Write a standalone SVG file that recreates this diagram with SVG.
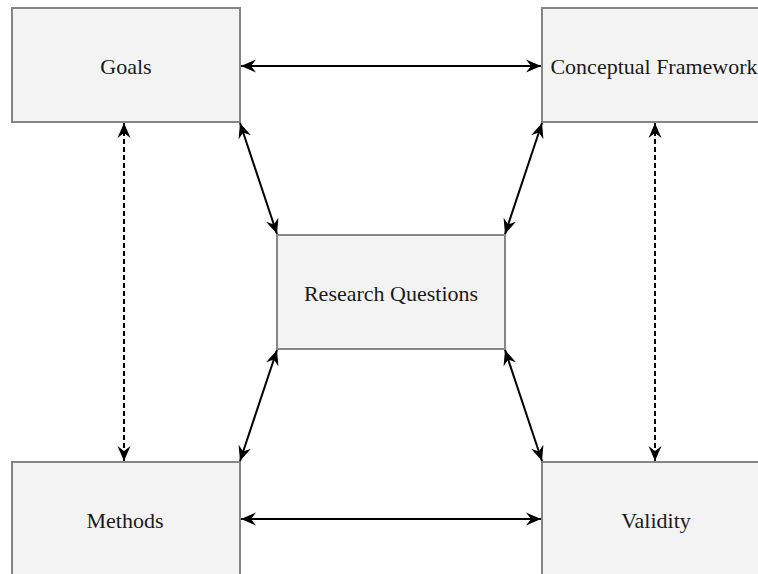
<svg xmlns="http://www.w3.org/2000/svg" width="758" height="574" viewBox="0 0 758 574">
<style>
.box{fill:#f3f3f3;stroke:#858585;stroke-width:2}
.lbl{font-family:"Liberation Serif","Times New Roman",serif;font-size:22px;fill:#1a1a1a;text-anchor:middle;dominant-baseline:central}
.c{stroke:#000;stroke-width:2;fill:none;marker-start:url(#ah);marker-end:url(#ah)}
.d{stroke-dasharray:5 3}
</style>
<defs>
<marker id="ah" markerUnits="userSpaceOnUse" viewBox="-15 -7 16 14" refX="0" refY="0" markerWidth="16" markerHeight="14" orient="auto-start-reverse">
<path d="M0,0 L-15,-6.5 L-10,0 L-15,6.5 Z" fill="#000"/>
</marker>
</defs>
<rect width="758" height="574" fill="#fff"/>
<g id="goals"><rect class="box" x="12" y="8" width="228" height="114"/><text class="lbl" x="126" y="66">Goals</text></g>
<g id="conceptual-framework"><rect class="box" x="542" y="8" width="228" height="114"/><text class="lbl" x="654" y="66">Conceptual Framework</text></g>
<g id="research-questions"><rect class="box" x="277" y="235" width="228" height="114"/><text class="lbl" x="391" y="293">Research Questions</text></g>
<g id="methods"><rect class="box" x="12" y="462" width="228" height="114"/><text class="lbl" x="125" y="520">Methods</text></g>
<g id="validity"><rect class="box" x="542" y="462" width="228" height="114"/><text class="lbl" x="656" y="520">Validity</text></g>
<g id="connectors">
<line class="c" x1="241" y1="66" x2="541" y2="66"/>
<line class="c" x1="241" y1="519" x2="541" y2="519"/>
<line class="c d" x1="124" y1="123" x2="124" y2="461"/>
<line class="c d" x1="655" y1="123" x2="655" y2="461"/>
<line class="c" x1="240" y1="123" x2="277" y2="234"/>
<line class="c" x1="542" y1="123" x2="505" y2="234"/>
<line class="c" x1="277" y1="350" x2="240" y2="461"/>
<line class="c" x1="505" y1="350" x2="542" y2="461"/>
</g>
</svg>
